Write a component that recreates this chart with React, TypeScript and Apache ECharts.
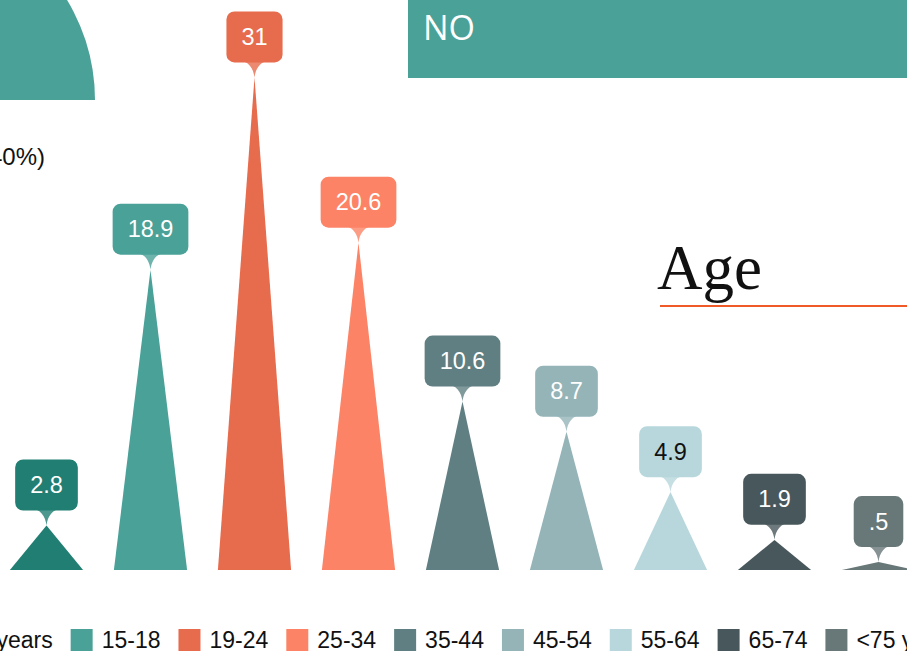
import React, { useEffect, useRef } from "react";
import * as echarts from "echarts";

const categories = ["<15 years", "15-18", "19-24", "25-34", "35-44", "45-54", "55-64", "65-74", "<75 years"];
const values = [2.8, 18.9, 31, 20.6, 10.6, 8.7, 4.9, 1.9, 0.5];
const colors = ["#217e72", "#4aa198", "#e76b4d", "#fc8366", "#607f82", "#94b4b8", "#b7d7dc", "#48575b", "#687778"];
const labelTextColors = ["#fff", "#fff", "#fff", "#fff", "#fff", "#fff", "#111", "#fff", "#fff"];

const pieNames = ["YES", "NO"];
const pieValues = [60, 40];
const pieColors = ["#e76b4d", "#4aa198"];

const SANS = '"Liberation Sans", Arial, Helvetica, sans-serif';

const fmt = (v: number) => String(v).replace(/^0\./, ".");

export default function App() {
  const ref = useRef<HTMLDivElement>(null);
  useEffect(() => {
    if (!ref.current) return;
    const chart = echarts.init(ref.current, undefined, { renderer: "svg" });

    const barSeries = categories.map((name, i) => ({
      type: "pictorialBar",
      name,
      data: values.map((v, j) => (j === i ? v : "-")),
      symbol: "triangle",
      symbolSize: [73, "100%"],
      itemStyle: { color: colors[i] },
      silent: true,
      z: 2,
      label: {
        show: true,
        position: "top",
        distance: 15,
        formatter: (p: any) => fmt(p.value),
        backgroundColor: colors[i],
        color: labelTextColors[i],
        padding: [14, 15],
        borderRadius: 8,
        fontSize: 23.5,
        lineHeight: 23,
        fontFamily: SANS,
      },
    }));

    const option: any = {
      animation: false,
      grid: { left: -5.5, right: -23.5, top: 13.9, bottom: 81, outerBoundsMode: "none", containLabel: false },
      xAxis: { type: "category", data: categories, show: false },
      yAxis: { type: "value", min: 0, max: 35, show: false },
      legend: {
        data: categories.map((name) => ({ name, icon: "rect" })),
        left: -80,
        top: 628,
        width: 1300,
        padding: 0,
        itemWidth: 22,
        itemHeight: 22,
        itemGap: 18,
        selectedMode: false,
        textStyle: {
          fontSize: 23,
          lineHeight: 24,
          color: "#111",
          fontFamily: SANS,
          padding: [0, 0, 0, 4],
        },
      },
      graphic: [
        {
          type: "rect",
          shape: { x: 408, y: -10, width: 520, height: 88 },
          style: { fill: "#4aa198" },
        },
        {
          type: "text",
          x: 423,
          y: 27,
          style: {
            text: "NO",
            fill: "#ffffff",
            fontSize: 34,
            fontFamily: '"Open Sans", "DejaVu Sans", sans-serif',
            align: "left",
            verticalAlign: "middle",
          },
        },
        {
          type: "text",
          x: 45,
          y: 156,
          style: {
            text: "(40%)",
            fill: "#111",
            fontSize: 24,
            fontFamily: SANS,
            align: "right",
            verticalAlign: "middle",
          },
        },
        {
          type: "text",
          x: 657,
          y: 268,
          style: {
            text: "Age",
            fill: "#111",
            fontSize: 63,
            fontFamily: '"Liberation Serif", "DejaVu Serif", serif',
            align: "left",
            verticalAlign: "middle",
          },
        },
        {
          type: "line",
          shape: { x1: 660, y1: 306, x2: 930, y2: 306 },
          style: { stroke: "#f05a28", lineWidth: 2 },
        },
      ],
      series: [
        {
          type: "pie",
          center: [-98, 100],
          radius: 193,
          startAngle: 180,
          silent: true,
          label: { show: false },
          labelLine: { show: false },
          data: [
            ...pieNames.map((name, i) => ({ name, value: pieValues[i], itemStyle: { color: pieColors[i] } })),
            { name: "", value: pieValues[0] + pieValues[1], itemStyle: { color: "transparent" } },
          ],
        },
        ...barSeries,
        {
          type: "scatter",
          name: "pointer",
          data: values.map((v, i) => ({ value: v, itemStyle: { color: colors[i] } })),
          symbol: "path://M0,0 L32,0 C22,0 17,8 16,17 C15,8 10,0 0,0 Z",
          symbolSize: [32, 17],
          symbolOffset: [0, -8.5],
          silent: true,
          z: 3,
        },
      ],
    };
    chart.setOption(option);
    return () => chart.dispose();
  }, []);
  return (
    <div
      ref={ref}
      style={{ position: "fixed", left: 0, top: 0, width: 907, height: 651, background: "#fff" }}
    />
  );
}
